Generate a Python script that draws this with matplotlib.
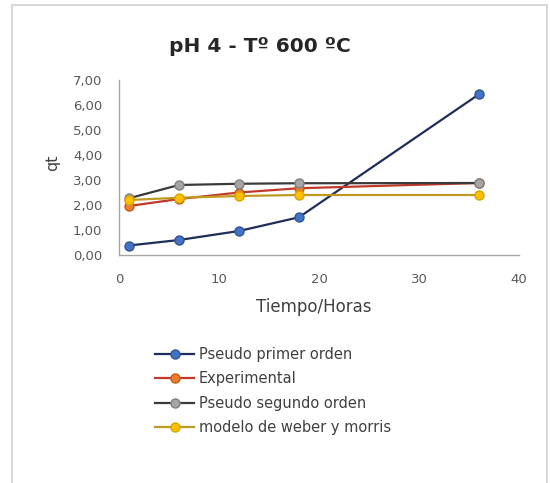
import matplotlib
matplotlib.use("Agg")
import matplotlib.pyplot as plt
from matplotlib.patches import Rectangle
from matplotlib.ticker import FuncFormatter

# data
horas = [1, 6, 12, 18, 36]
pseudo_primer = [0.38, 0.60, 0.96, 1.51, 6.43]
experimental = [1.96, 2.24, 2.50, 2.67, 2.88]
pseudo_segundo = [2.27, 2.80, 2.85, 2.87, 2.88]
weber_morris = [2.20, 2.29, 2.36, 2.40, 2.40]

labels = ["Pseudo primer orden", "Experimental", "Pseudo segundo orden", "modelo de weber y morris"]
series = [pseudo_primer, experimental, pseudo_segundo, weber_morris]
line_colors = ["#1f2d5a", "#c0392b", "#3a3a3a", "#bf9a20"]
face_colors = ["#4472c4", "#ed7d31", "#a5a5a5", "#ffc000"]
edge_colors = ["#2f5597", "#c55a11", "#7f7f7f", "#d9a400"]

W, H = 550, 483
fig = plt.figure(figsize=(5.5, 4.83), dpi=100)

# light chart frame
fig.patches.append(Rectangle((12 / W, -0.1), (547 - 12) / W, 1.1 - 5 / H,
                             transform=fig.transFigure, fill=False,
                             edgecolor="#d0d0d0", linewidth=1.2))

ax = fig.add_axes([119 / W, 1 - 255 / H, 400 / W, 175 / H])

for i in range(len(series)):
    ax.plot(horas, series[i], color=line_colors[i], linewidth=1.6,
            marker="o", markersize=6.5, markerfacecolor=face_colors[i],
            markeredgecolor=edge_colors[i], markeredgewidth=1.0,
            label=labels[i], zorder=3 + i)

ax.set_xlim(0, 40)
ax.set_ylim(0, 7)
ax.set_xticks([0, 10, 20, 30, 40])
ax.set_yticks(range(8))
ax.yaxis.set_major_formatter(FuncFormatter(lambda v, p: f"{v:.2f}".replace(".", ",")))

for s in ["top", "right"]:
    ax.spines[s].set_visible(False)
for s in ["left", "bottom"]:
    ax.spines[s].set_color("#a6a6a6")
    ax.spines[s].set_linewidth(1.0)

ax.tick_params(axis="x", length=0, pad=13, labelsize=9.5, labelcolor="#595959")
ax.tick_params(axis="y", length=0, pad=12, labelsize=9.5, labelcolor="#595959")

fig.text(260 / W, 1 - 47 / H, "pH 4 - Tº 600 ºC", ha="center", va="center",
         fontsize=14.5, fontweight="bold", color="#262626")
fig.text(314 / W, 1 - 307 / H, "Tiempo/Horas", ha="center", va="center",
         fontsize=12, color="#404040")
fig.text(53 / W, 1 - 163 / H, "qt", ha="center", va="center",
         fontsize=11.5, color="#404040", rotation=90)

fig.legend(loc="upper left", bbox_to_anchor=(155 / W, 1 - 347 / H),
           frameon=False, fontsize=10.5, handlelength=2.7, handletextpad=0.3,
           labelspacing=0.65, borderpad=0, borderaxespad=0, labelcolor="#404040")

fig.savefig("out.png", dpi=100)
